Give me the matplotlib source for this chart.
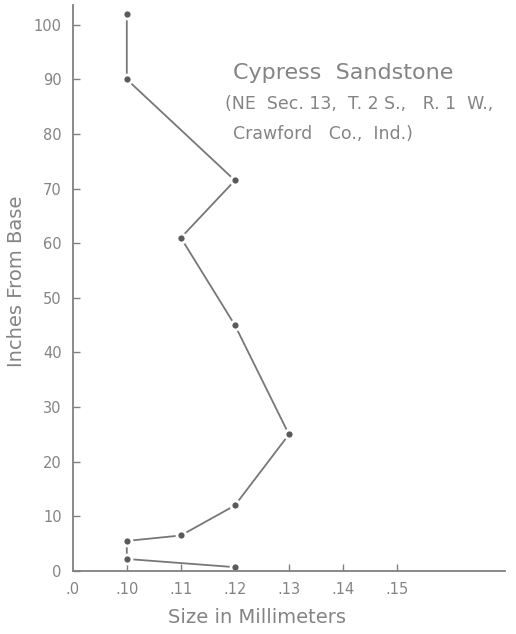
import matplotlib
matplotlib.use("Agg")
import matplotlib.pyplot as plt

# Grain size profile, Cypress Sandstone
size_mm = [0.10, 0.10, 0.12, 0.11, 0.12, 0.13, 0.12, 0.11, 0.10, 0.10, 0.12]
inches_from_base = [102, 90, 71.5, 61, 45, 25, 12, 6.5, 5.5, 2.2, 0.7]

x_ticks = [0.09, 0.10, 0.11, 0.12, 0.13, 0.14, 0.15]
x_tick_labels = [".0", ".10", ".11", ".12", ".13", ".14", ".15"]
y_ticks = list(range(0, 101, 10))

ink = "#848484"
font = ["DejaVu Sans"]

fig = plt.figure(figsize=(5.16, 6.34), dpi=100)
ax = fig.add_axes([0.141, 0.0994, 0.838, 0.8926])

ax.plot(size_mm, inches_from_base, color="#777777", lw=1.3, zorder=2,
        marker="o", ms=6.5, mfc="#5a5a5a", mec="white", mew=2.0)

ax.set_xlim(0.09, 0.170)
ax.set_ylim(0, 103.6)

ax.spines["top"].set_visible(False)
ax.spines["right"].set_visible(False)
for s in ("left", "bottom"):
    ax.spines[s].set_color("#808080")
    ax.spines[s].set_linewidth(1.3)

ax.set_xticks(x_ticks)
ax.set_xticklabels(x_tick_labels)
ax.set_yticks(y_ticks)
ax.tick_params(axis="both", direction="in", length=5, width=1, color="#808080",
               labelcolor=ink, labelsize=10.5, pad=8)
ax.xaxis.get_major_ticks()[0].tick1line.set_visible(False)
for lab in ax.get_xticklabels() + ax.get_yticklabels():
    lab.set_family(font)

ax.set_xlabel("Size in Millimeters", family=font, fontsize=14, color=ink)
ax.xaxis.set_label_coords(0.425, -0.066)
ax.set_ylabel("Inches From Base", family=font, fontsize=14, color=ink)
ax.yaxis.set_label_coords(-0.108, 0.512)

fig.text(0.452, 0.885, "Cypress  Sandstone", family=font, fontsize=16,
         color=ink, va="center", ha="left")
fig.text(0.436, 0.836, "(NE  Sec. 13,  T. 2 S.,   R. 1  W.,", family=font,
         fontsize=12.5, color=ink, va="center", ha="left")
fig.text(0.452, 0.789, "Crawford   Co.,  Ind.)", family=font, fontsize=12.5,
         color=ink, va="center", ha="left")

fig.savefig("out.png", dpi=100)
